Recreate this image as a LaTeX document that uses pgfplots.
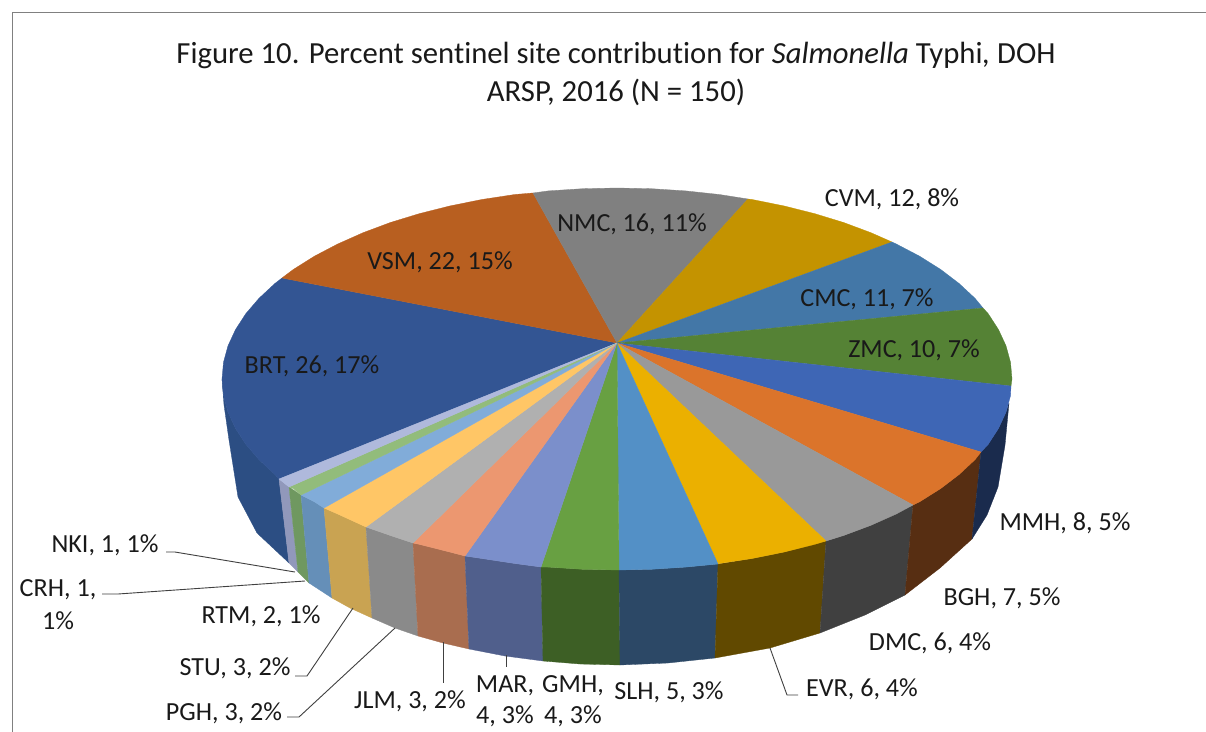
\documentclass[border=0pt]{standalone}
\usepackage{pgfplots}
\pgfplotsset{compat=1.18}
\usepackage{fontspec}
\setmainfont{Carlito}[Ligatures=NoCommon]
\definecolor{cBRT}{HTML}{335593}\definecolor{cVSM}{HTML}{B85F20}\definecolor{cNMC}{HTML}{808080}
\definecolor{cCVM}{HTML}{C49300}\definecolor{cCMC}{HTML}{4377A7}\definecolor{cZMC}{HTML}{558235}
\definecolor{cMMH}{HTML}{3E66B5}\definecolor{cBGH}{HTML}{DB742B}\definecolor{cDMC}{HTML}{999999}
\definecolor{cEVR}{HTML}{EBB000}\definecolor{cSLH}{HTML}{5390C6}\definecolor{cGMH}{HTML}{68A042}
\definecolor{cMAR}{HTML}{7B8FCB}\definecolor{cJLM}{HTML}{EC9770}\definecolor{cPGH}{HTML}{B0B0B0}
\definecolor{cSTU}{HTML}{FFC666}\definecolor{cRTM}{HTML}{81ACD9}\definecolor{cCRH}{HTML}{92BC7B}
\definecolor{cNKI}{HTML}{AFB9DC}
\definecolor{sBRT}{HTML}{2C4E83}\definecolor{sMMH}{HTML}{1A2B4D}\definecolor{sBGH}{HTML}{572E12}
\definecolor{sDMC}{HTML}{404040}\definecolor{sEVR}{HTML}{614900}\definecolor{sSLH}{HTML}{2C4866}
\definecolor{sGMH}{HTML}{3D5F25}\definecolor{sMAR}{HTML}{505F8C}\definecolor{sJLM}{HTML}{A96D4F}
\definecolor{sPGH}{HTML}{8A8A8A}\definecolor{sSTU}{HTML}{C9A352}\definecolor{sRTM}{HTML}{658FB8}
\definecolor{sCRH}{HTML}{6F9860}\definecolor{sNKI}{HTML}{9198BB}
\definecolor{leader}{HTML}{404040}
\tikzset{lbl/.style={font=\fontsize{26.2}{30}\selectfont, text=black!90, inner sep=0pt, align=center, yshift=-2bp}}
\begin{document}
\begin{tikzpicture}
\begin{axis}[
  scale only axis, width=1206bp, height=732bp,
  xmin=0, xmax=1206, ymin=0, ymax=732, y dir=reverse,
  hide axis, clip=false,
  every axis plot/.append style={no marks, line join=round},
]
% page extent
\addplot[draw=white, line width=0pt, fill=white] coordinates {(0,0) (1206,0) (1206,732) (0,732)} -- cycle;
% frame
\addplot[draw=black!50, line width=1pt] coordinates {(12,731.5) (12,12.5) (1205.5,12.5)};
% side faces
\addplot[fill=sBRT, draw=sBRT, line width=.3pt] coordinates {(222,379) (223.5,395.7) (228,412.2) (235.5,428.4) (245.8,444.3) (259,459.7) (274.9,474.5) (279,479) (289,563) (257,533) (238,497) (229,440) (224,405)} -- cycle;
\addplot[fill=sNKI, draw=sNKI, line width=.3pt] coordinates {(279,479) (289,487) (298,572) (289,563)} -- cycle;
\addplot[fill=sCRH, draw=sCRH, line width=.3pt] coordinates {(289,487) (301,495) (309,583) (298,572)} -- cycle;
\addplot[fill=sRTM, draw=sRTM, line width=.3pt] coordinates {(301,495) (314.4,501.8) (324,508) (332,598) (309,583)} -- cycle;
\addplot[fill=sSTU, draw=sSTU, line width=.3pt] coordinates {(324,508) (337.7,514) (366,527) (372,618) (350,608) (332,598)} -- cycle;
\addplot[fill=sPGH, draw=sPGH, line width=.3pt] coordinates {(366,527) (390.4,535.5) (413,543) (418,636) (395,628) (372,618)} -- cycle;
\addplot[fill=sJLM, draw=sJLM, line width=.3pt] coordinates {(413,543) (419.5,544.4) (450.1,552.1) (465,556) (469,649) (443,643) (418,636)} -- cycle;
\addplot[fill=sMAR, draw=sMAR, line width=.3pt] coordinates {(465,556) (481.9,558.5) (514.8,563.5) (541,567) (543,661) (505,656) (469,649)} -- cycle;
\addplot[fill=sGMH, draw=sGMH, line width=.3pt] coordinates {(541,567) (548.4,567.1) (582.6,569.3) (619,570) (620,665) (580,664) (543,661)} -- cycle;
\addplot[fill=sSLH, draw=sSLH, line width=.3pt] coordinates {(619,570) (651.4,569.3) (685.6,567.1) (718,564) (715,658) (668,663) (620,665)} -- cycle;
\addplot[fill=sEVR, draw=sEVR, line width=.3pt] coordinates {(718,564) (752.1,558.5) (783.9,552.1) (826,541) (820,633) (770,648) (715,658)} -- cycle;
\addplot[fill=sDMC, draw=sDMC, line width=.3pt] coordinates {(826,541) (843.6,535.5) (870.9,525.3) (913,505) (905,595) (865,615) (820,633)} -- cycle;
\addplot[fill=sBGH, draw=sBGH, line width=.3pt] coordinates {(913,505) (919.6,501.8) (940.6,488.6) (959.1,474.5) (981,452) (972,539) (940,568) (905,595)} -- cycle;
\addplot[fill=sMMH, draw=sMMH, line width=.3pt] coordinates {(981,452) (988.2,444.3) (998.5,428.4) (1006,412.2) (1009,403) (1005,445) (998,487) (987,515) (972,539)} -- cycle;
% top faces
\addplot[fill=cBRT, draw=cBRT, line width=.3pt] coordinates {(617,343) (279,479) (274.9,474.5) (259,459.7) (245.8,444.3) (235.5,428.4) (228,412.2) (223.5,395.7) (222,379) (223.5,362.3) (228,345.8) (235.5,329.6) (245.8,313.7) (259,298.3) (274.9,283.5) (282,278)} -- cycle;
\addplot[fill=cVSM, draw=cVSM, line width=.3pt] coordinates {(617,343) (282,278) (293.4,269.4) (314.4,256.2) (337.7,244) (363.1,232.7) (390.4,222.5) (419.5,213.6) (450.1,205.9) (481.9,199.5) (514.8,194.5) (533,193)} -- cycle;
\addplot[fill=cNMC, draw=cNMC, line width=.3pt] coordinates {(617,343) (533,193) (548.4,190.9) (582.6,188.7) (617,188) (651.4,188.7) (685.6,190.9) (719.2,194.5) (748,199)} -- cycle;
\addplot[fill=cCVM, draw=cCVM, line width=.3pt] coordinates {(617,343) (748,199) (752.1,199.5) (783.9,205.9) (814.5,213.6) (843.6,222.5) (870.9,232.7) (892,242)} -- cycle;
\addplot[fill=cCMC, draw=cCMC, line width=.3pt] coordinates {(617,343) (892,242) (896.3,244) (919.6,256.2) (940.6,269.4) (959.1,283.5) (975,298.3) (983,308)} -- cycle;
\addplot[fill=cZMC, draw=cZMC, line width=.3pt] coordinates {(617,343) (983,308) (988.2,313.7) (998.5,329.6) (1006,345.8) (1010.5,362.3) (1012,379) (1011,386)} -- cycle;
\addplot[fill=cMMH, draw=cMMH, line width=.3pt] coordinates {(617,343) (1011,386) (1010.5,395.7) (1006,412.2) (998.5,428.4) (988.2,444.3) (981,452)} -- cycle;
\addplot[fill=cBGH, draw=cBGH, line width=.3pt] coordinates {(617,343) (981,452) (975,459.7) (959.1,474.5) (940.6,488.6) (919.6,501.8) (913,505)} -- cycle;
\addplot[fill=cDMC, draw=cDMC, line width=.3pt] coordinates {(617,343) (913,505) (896.3,514) (870.9,525.3) (843.6,535.5) (826,541)} -- cycle;
\addplot[fill=cEVR, draw=cEVR, line width=.3pt] coordinates {(617,343) (826,541) (814.5,544.4) (783.9,552.1) (752.1,558.5) (719.2,563.5) (718,564)} -- cycle;
\addplot[fill=cSLH, draw=cSLH, line width=.3pt] coordinates {(617,343) (718,564) (685.6,567.1) (651.4,569.3) (619,570)} -- cycle;
\addplot[fill=cGMH, draw=cGMH, line width=.3pt] coordinates {(617,343) (619,570) (582.6,569.3) (548.4,567.1) (541,567)} -- cycle;
\addplot[fill=cMAR, draw=cMAR, line width=.3pt] coordinates {(617,343) (541,567) (514.8,563.5) (481.9,558.5) (465,556)} -- cycle;
\addplot[fill=cJLM, draw=cJLM, line width=.3pt] coordinates {(617,343) (465,556) (450.1,552.1) (419.5,544.4) (413,543)} -- cycle;
\addplot[fill=cPGH, draw=cPGH, line width=.3pt] coordinates {(617,343) (413,543) (390.4,535.5) (366,527)} -- cycle;
\addplot[fill=cSTU, draw=cSTU, line width=.3pt] coordinates {(617,343) (366,527) (337.7,514) (324,508)} -- cycle;
\addplot[fill=cRTM, draw=cRTM, line width=.3pt] coordinates {(617,343) (324,508) (314.4,501.8) (301,495)} -- cycle;
\addplot[fill=cCRH, draw=cCRH, line width=.3pt] coordinates {(617,343) (301,495) (293.4,488.6) (289,487)} -- cycle;
\addplot[fill=cNKI, draw=cNKI, line width=.3pt] coordinates {(617,343) (289,487) (279,479)} -- cycle;
% leader lines
\addplot[draw=leader, line width=.9pt] coordinates {(166,552) (175,552) (295,572)};
\addplot[draw=leader, line width=.9pt] coordinates {(102,594) (118,594) (305,581)};
\addplot[draw=leader, line width=.9pt] coordinates {(295,676) (307,676) (353,608)};
\addplot[draw=leader, line width=.9pt] coordinates {(287,717) (299,717) (395,628)};
\addplot[draw=leader, line width=.9pt] coordinates {(443,642) (443,683)};
\addplot[draw=leader, line width=.9pt] coordinates {(506,655) (506,667)};
\addplot[draw=leader, line width=.9pt] coordinates {(770,648) (787,695) (798,695)};
% title
\node[font=\fontsize{30.8}{34}\selectfont, text=black!90, inner sep=0pt, yshift=-1bp] at (axis cs:616,54) {Figure 10. Percent sentinel site contribution for \textit{Salmonella} Typhi\textit{,} DOH};
\node[font=\fontsize{30.8}{34}\selectfont, text=black!90, inner sep=0pt, yshift=-1bp] at (axis cs:616,91) {ARSP, 2016 (N = 150)};
% labels
\node[lbl] at (axis cs:312,364) {BRT, 26, 17\%};
\node[lbl] at (axis cs:440,260) {VSM, 22, 15\%};
\node[lbl] at (axis cs:632,222) {NMC, 16, 11\%};
\node[lbl] at (axis cs:892,197) {CVM, 12, 8\%};
\node[lbl] at (axis cs:867,297) {CMC, 11, 7\%};
\node[lbl] at (axis cs:914,348) {ZMC, 10, 7\%};
\node[lbl] at (axis cs:1065,521) {MMH, 8, 5\%};
\node[lbl] at (axis cs:1002,596) {BGH, 7, 5\%};
\node[lbl] at (axis cs:930,641) {DMC, 6, 4\%};
\node[lbl] at (axis cs:862,687) {EVR, 6, 4\%};
\node[lbl] at (axis cs:669,690) {SLH, 5, 3\%};
\node[lbl] at (axis cs:573,684) {GMH,};
\node[lbl] at (axis cs:573,714) {4, 3\%};
\node[lbl] at (axis cs:505,684) {MAR,};
\node[lbl] at (axis cs:505,714) {4, 3\%};
\node[lbl] at (axis cs:410,699) {JLM, 3, 2\%};
\node[lbl] at (axis cs:224,711) {PGH, 3, 2\%};
\node[lbl] at (axis cs:235,666) {STU, 3, 2\%};
\node[lbl] at (axis cs:261,614) {RTM, 2, 1\%};
\node[lbl] at (axis cs:58,588) {CRH, 1,};
\node[lbl] at (axis cs:58,619) {1\%};
\node[lbl] at (axis cs:105,543) {NKI, 1, 1\%};
\end{axis}
\end{tikzpicture}
\end{document}
